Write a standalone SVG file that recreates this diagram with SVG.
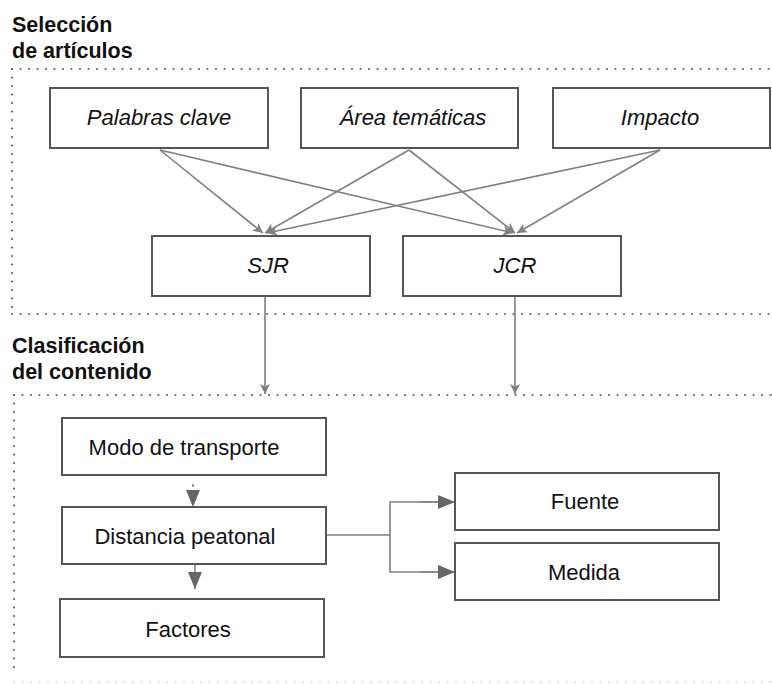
<svg xmlns="http://www.w3.org/2000/svg" width="772" height="684" viewBox="0 0 772 684">
<style>
.box{fill:#fff;stroke:#555;stroke-width:2}
.t{font-family:"Liberation Sans",Arial,sans-serif;font-size:22px;fill:#111;text-anchor:middle}
.i{font-style:italic}
.h{font-family:"Liberation Sans",Arial,sans-serif;font-size:21.5px;font-weight:bold;fill:#111}
.dot{stroke:#666;stroke-width:2.2;stroke-linecap:round;stroke-dasharray:0 8.5;fill:none}
.c{stroke:#808080;stroke-width:1.6;fill:none}
</style>
<defs>
<marker id="a" viewBox="0 0 10 10" refX="10" refY="5" markerWidth="10" markerHeight="10" markerUnits="userSpaceOnUse" orient="auto"><path d="M0,0 L10,5 L0,10 L2.5,5 Z" fill="#808080"/></marker>
<marker id="b" viewBox="0 0 12 12" refX="12" refY="6" markerWidth="17" markerHeight="14" markerUnits="userSpaceOnUse" orient="auto" preserveAspectRatio="none"><path d="M0,0 L12,6 L0,12 Z" fill="#666"/></marker>
</defs>
<g id="frames">
<text class="h" x="12" y="32">Selección</text>
<text class="h" x="12" y="58">de artículos</text>
<line class="dot" x1="12" y1="69" x2="772" y2="69"/>
<line class="dot" x1="12" y1="69" x2="12" y2="310"/>
<line class="dot" x1="12" y1="314" x2="772" y2="314"/>
<text class="h" x="12" y="353">Clasificación</text>
<text class="h" x="12" y="379">del contenido</text>
<line class="dot" x1="14" y1="395" x2="772" y2="395"/>
<line class="dot" x1="14" y1="395" x2="14" y2="675"/>
<line class="dot" x1="14" y1="682" x2="772" y2="682" style="stroke:#ddd"/>
</g>
<g id="connectors">
<line class="c" x1="160" y1="150" x2="263" y2="233" marker-end="url(#a)"/>
<line class="c" x1="160" y1="150" x2="513" y2="233" marker-end="url(#a)"/>
<line class="c" x1="409" y1="150" x2="265" y2="233" marker-end="url(#a)"/>
<line class="c" x1="409" y1="150" x2="515" y2="233" marker-end="url(#a)"/>
<line class="c" x1="660" y1="150" x2="267" y2="233" marker-end="url(#a)"/>
<line class="c" x1="660" y1="150" x2="517" y2="233" marker-end="url(#a)"/>
<line class="c" x1="265" y1="297" x2="265" y2="394" marker-end="url(#a)"/>
<line class="c" x1="515" y1="297" x2="515" y2="394" marker-end="url(#a)"/>
<line class="c" x1="193" y1="484" x2="193" y2="507" stroke-dasharray="3 3" marker-end="url(#b)"/>
<line class="c" x1="195" y1="565" x2="195" y2="589" marker-end="url(#b)"/>
<polyline class="c" points="326,535 390,535"/>
<polyline class="c" points="439,502 390,502 390,572 439,572"/>
<line class="c" x1="420" y1="502" x2="455" y2="502" marker-end="url(#b)"/>
<line class="c" x1="420" y1="572" x2="455" y2="572" marker-end="url(#b)"/>
</g>
<g id="palabras"><rect class="box" x="50" y="88" width="218" height="60"/><text class="t i" x="159" y="125">Palabras clave</text></g>
<g id="area"><rect class="box" x="301" y="88" width="217" height="60"/><text class="t i" x="413" y="125">Área temáticas</text></g>
<g id="impacto"><rect class="box" x="553" y="88" width="217" height="60"/><text class="t i" x="660" y="125">Impacto</text></g>
<g id="sjr"><rect class="box" x="152" y="236" width="218" height="60"/><text class="t i" x="268" y="273">SJR</text></g>
<g id="jcr"><rect class="box" x="403" y="236" width="218" height="60"/><text class="t i" x="515" y="273">JCR</text></g>
<g id="modo"><rect class="box" x="62" y="418" width="264" height="57"/><text class="t" x="184" y="455">Modo de transporte</text></g>
<g id="distancia"><rect class="box" x="62" y="507" width="264" height="57"/><text class="t" x="185" y="544">Distancia peatonal</text></g>
<g id="factores"><rect class="box" x="60" y="599" width="264" height="58"/><text class="t" x="188" y="637">Factores</text></g>
<g id="fuente"><rect class="box" x="455" y="473" width="264" height="57"/><text class="t" x="585" y="509">Fuente</text></g>
<g id="medida"><rect class="box" x="455" y="543" width="264" height="57"/><text class="t" x="584" y="580">Medida</text></g>
</svg>
